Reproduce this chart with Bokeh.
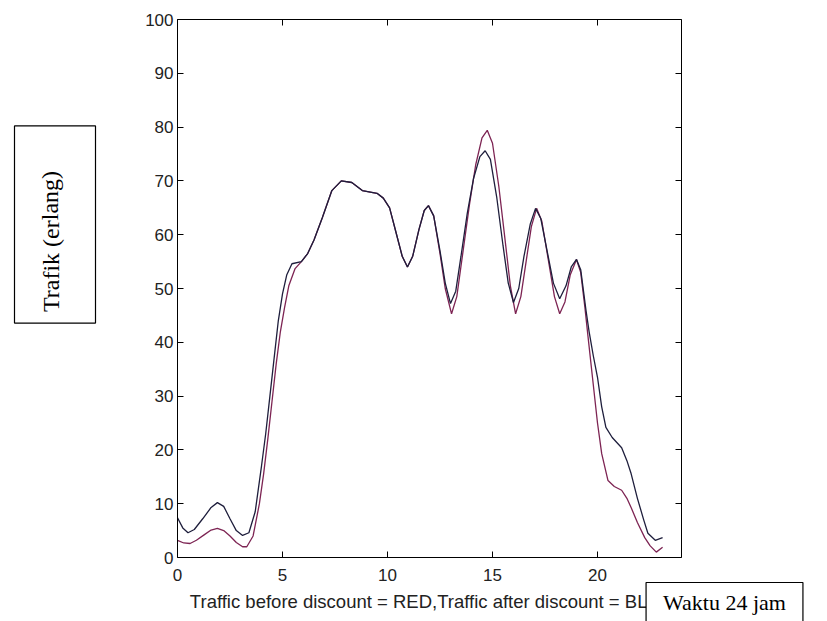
from bokeh.plotting import figure
from bokeh.models import Range1d, LinearAxis, FixedTicker, Label
from bokeh.embed import file_html
from bokeh.resources import INLINE

# ---- data ----
hour_after = [0.0, 0.25, 0.5, 0.8, 1.2, 1.6, 1.9, 2.2, 2.5, 2.8, 3.1, 3.4, 3.7, 4.0, 4.2, 4.4,
              4.6, 4.8, 5.0, 5.2, 5.45, 5.9, 6.2, 6.5, 6.9, 7.35, 7.8, 8.3, 8.8, 9.5, 9.8, 10.1,
              10.4, 10.7, 10.95, 11.2, 11.5, 11.75, 11.95, 12.2, 12.5, 12.75, 13.0, 13.25, 13.5,
              13.8, 14.1, 14.4, 14.65, 14.9, 15.2, 15.5, 15.75, 16.0, 16.25, 16.5, 16.8, 17.05,
              17.3, 17.6, 17.9, 18.2, 18.5, 18.75, 19.0, 19.2, 19.45, 19.6, 19.8, 20.0, 20.2,
              20.4, 20.7, 21.15, 21.4, 21.6, 21.9, 22.2, 22.4, 22.75, 23.1]
traffic_after = [7.4, 5.5, 4.6, 5.2, 7.2, 9.3, 10.2, 9.5, 7.2, 5.0, 4.1, 4.6, 8.5, 17.0, 23.0, 30.0,
                 37.0, 44.0, 49.0, 52.5, 54.6, 55.0, 56.5, 59.0, 63.2, 68.2, 70.0, 69.7, 68.2, 67.7,
                 66.8, 65.0, 60.5, 56.0, 54.0, 56.0, 61.0, 64.5, 65.4, 63.5, 57.0, 51.0, 47.2, 49.5,
                 56.0, 64.0, 70.5, 74.5, 75.6, 74.0, 67.0, 58.0, 51.0, 47.4, 50.0, 56.0, 62.0, 64.9,
                 63.0, 57.0, 51.0, 48.1, 50.5, 54.0, 55.4, 53.5, 46.0, 42.0, 37.5, 33.5, 28.0,
                 24.2, 22.3, 20.4, 18.0, 15.6, 11.0, 7.0, 4.5, 3.2, 3.7]

hour_before = [0.0, 0.3, 0.6, 0.9, 1.3, 1.6, 1.9, 2.2, 2.5, 2.8, 3.1, 3.3, 3.6, 3.9, 4.1, 4.3,
               4.5, 4.7, 4.9, 5.1, 5.3, 5.6, 5.9, 6.2, 6.5, 6.9, 7.35, 7.8, 8.3, 8.8, 9.5, 9.8,
               10.1, 10.4, 10.7, 10.95, 11.2, 11.5, 11.75, 11.95, 12.2, 12.5, 12.75, 13.05, 13.3,
               13.6, 13.9, 14.2, 14.5, 14.75, 15.0, 15.3, 15.6, 15.85, 16.1, 16.35, 16.6, 16.85,
               17.1, 17.35, 17.65, 17.95, 18.2, 18.45, 18.7, 19.0, 19.2, 19.4, 19.55, 19.76, 20.0,
               20.2, 20.5, 20.8, 21.15, 21.4, 21.6, 21.9, 22.25, 22.5, 22.8, 23.1]
traffic_before = [3.2, 2.7, 2.6, 3.2, 4.3, 5.1, 5.4, 5.0, 4.0, 2.8, 2.0, 2.0, 4.0, 10.0, 15.5, 22.0,
                  29.0, 36.0, 42.0, 46.5, 50.5, 53.7, 55.0, 56.5, 59.0, 63.2, 68.2, 70.0, 69.7, 68.2,
                  67.7, 66.8, 65.0, 60.5, 56.0, 54.0, 56.0, 61.0, 64.5, 65.4, 63.5, 56.5, 50.0, 45.3,
                  48.5, 57.0, 65.5, 73.0, 78.0, 79.4, 77.0, 69.0, 59.0, 50.5, 45.3, 48.5, 55.0, 61.5,
                  64.9, 62.5, 55.5, 48.5, 45.3, 47.5, 52.5, 55.4, 53.0, 46.5, 41.0, 33.5, 25.0,
                  19.3, 14.3, 13.2, 12.5, 11.0, 9.3, 6.5, 3.7, 2.2, 1.0, 1.9]

x_ticks = [0, 5, 10, 15, 20]
y_ticks = [0, 10, 20, 30, 40, 50, 60, 70, 80, 90, 100]
x_lim = (0, 24)
y_lim = (0, 100)
x_label = "Traffic before discount = RED,Traffic after discount = BLUE"
y_box_text = "Trafik (erlang)"
x_box_text = "Waktu 24 jam"

# ---- layout geometry (pixels) ----
W, H = 827, 621
BOX_L, BOX_R, BOX_T, BOX_B = 177, 681, 19, 557   # visible axes box

# the bokeh frame covers the whole canvas; ranges are extended so that the
# axes box lands where it is in the reference
sx_unit = (BOX_R - BOX_L) / (x_lim[1] - x_lim[0])
sy_unit = (BOX_B - BOX_T) / (y_lim[1] - y_lim[0])
x_range = Range1d(x_lim[0] - BOX_L / sx_unit, x_lim[1] + (W - BOX_R) / sx_unit)
y_range = Range1d(y_lim[0] - (H - BOX_B) / sy_unit, y_lim[1] + BOX_T / sy_unit)

p = figure(width=W, height=H, x_range=x_range, y_range=y_range,
           output_backend="svg", toolbar_location=None,
           min_border_left=0, min_border_right=0, min_border_top=0, min_border_bottom=0)
p.xgrid.visible = False
p.ygrid.visible = False
p.background_fill_color = "white"
p.border_fill_color = "white"
p.outline_line_color = None

tick_font = "Liberation Sans"

def style_axis(ax, ticks, bounds, loc, labels=True):
    ax.ticker = FixedTicker(ticks=ticks)
    ax.bounds = bounds
    ax.fixed_location = loc
    ax.axis_line_color = "black"
    ax.axis_line_width = 1
    ax.major_tick_line_color = "black"
    ax.major_tick_in = 6
    ax.major_tick_out = 0
    ax.minor_tick_line_color = None
    ax.major_label_text_font = tick_font
    ax.major_label_text_font_size = "17px"
    ax.major_label_text_color = "#222222" if labels else None

style_axis(p.xaxis[0], x_ticks, x_lim, y_lim[0])
style_axis(p.yaxis[0], y_ticks, y_lim, x_lim[0])
p.xaxis[0].major_label_standoff = 11
p.yaxis[0].major_label_standoff = 4

top_axis = LinearAxis()
p.add_layout(top_axis, "above")
style_axis(top_axis, x_ticks, x_lim, y_lim[1], labels=False)
right_axis = LinearAxis()
p.add_layout(right_axis, "right")
style_axis(right_axis, y_ticks, y_lim, x_lim[1], labels=False)

# ---- lines ----
p.line(hour_before, traffic_before, line_color="#7d2453", line_width=1.3)
p.line(hour_after, traffic_after, line_color="#1e1e3c", line_width=1.3)

# ---- texts (screen units: from the canvas bottom-left, y upwards) ----
p.add_layout(Label(x=(BOX_L + BOX_R) / 2 + 2, y=H - 601, x_units="screen", y_units="screen",
                   text=x_label, text_font=tick_font, text_font_size="18.5px",
                   text_color="#222222", text_align="center", text_baseline="middle"))

p.add_layout(Label(x=54.5, y=H - 224, x_units="screen", y_units="screen", text=y_box_text,
                   angle=1.5708, text_font="Liberation Serif", text_font_size="24px",
                   text_color="black", text_align="center", text_baseline="middle",
                   background_fill_color="white", border_line_color="black", border_line_width=1.2,
                   padding=dict(left=11, right=45, top=23, bottom=32)))

p.add_layout(Label(x=724, y=H - 604, x_units="screen", y_units="screen", text=x_box_text,
                   text_font="Liberation Serif", text_font_size="22px",
                   text_color="black", text_align="center", text_baseline="middle",
                   background_fill_color="white", border_line_color="black", border_line_width=1.2,
                   padding=dict(left=17, right=17, top=7, bottom=12)))

open("out.html", "w").write(file_html(p, INLINE))
